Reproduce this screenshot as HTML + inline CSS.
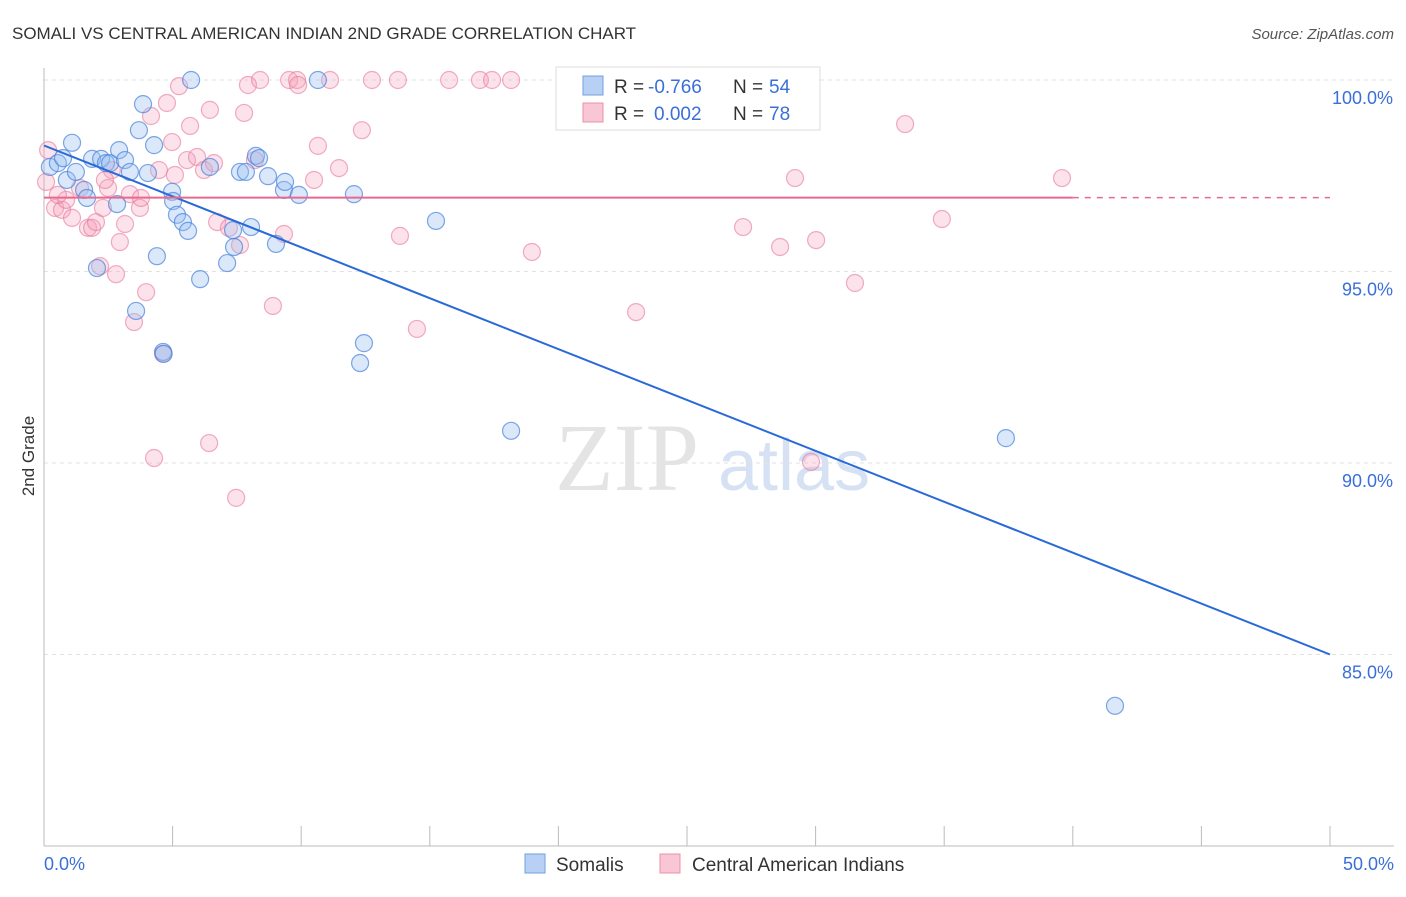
<!DOCTYPE html>
<html><head><meta charset="utf-8"><style>
body{margin:0;background:#fff;font-family:"Liberation Sans",sans-serif}
</style></head><body>
<svg width="1406" height="892" xmlns="http://www.w3.org/2000/svg" font-family="Liberation Sans, sans-serif">
<text x="12" y="39" font-size="17" fill="#333">SOMALI VS CENTRAL AMERICAN INDIAN 2ND GRADE CORRELATION CHART</text>
<text x="1394" y="39" font-size="15" fill="#555" font-style="italic" text-anchor="end">Source: ZipAtlas.com</text>
<text x="34" y="456" font-size="17" fill="#333" transform="rotate(-90 34 456)" text-anchor="middle">2nd Grade</text>
<g><text x="555" y="490" font-size="96" font-family="Liberation Serif, serif" fill="#e4e4e4">ZIP</text><text x="718" y="490" font-size="72" fill="#d6e2f4">atlas</text></g>
<g id="grid"></g><g id="axes"></g><g id="pts"></g><g id="lines"></g>
<g>
<rect x="556" y="67" width="264" height="63" fill="#fff" stroke="#ddd"/>
<rect x="583" y="76" width="20" height="19" fill="#b8d0f4" stroke="#6fa0e0"/>
<rect x="583" y="103" width="20" height="19" fill="#f9c6d5" stroke="#ec8fab"/>
<text x="614" y="93" font-size="19" fill="#333">R =</text>
<text x="648" y="93" font-size="19" fill="#3a6fd8">-0.766</text>
<text x="733" y="93" font-size="19" fill="#333">N =</text>
<text x="769" y="93" font-size="19" fill="#3a6fd8">54</text>
<text x="614" y="120" font-size="19" fill="#333">R =</text>
<text x="654" y="120" font-size="19" fill="#3a6fd8">0.002</text>
<text x="733" y="120" font-size="19" fill="#333">N =</text>
<text x="769" y="120" font-size="19" fill="#3a6fd8">78</text>
</g>
<g>
<rect x="525" y="854" width="20" height="19" fill="#b8d0f4" stroke="#6fa0e0"/>
<text x="556" y="871" font-size="19" fill="#333">Somalis</text>
<rect x="660" y="854" width="20" height="19" fill="#f9c6d5" stroke="#ec8fab"/>
<text x="692" y="871" font-size="19" fill="#333">Central American Indians</text>
</g>
</svg>
<script>
const blueX=[0.23,0.54,0.74,1.09,0.89,1.24,1.56,1.67,1.87,2.06,2.22,2.41,2.57,2.84,2.92,3.15,3.34,3.58,3.69,3.85,4.04,4.28,4.39,4.63,4.65,4.98,5.02,5.17,5.40,5.60,5.72,6.07,6.45,7.12,7.35,7.39,7.62,7.85,8.05,8.24,8.36,8.71,9.02,9.33,9.37,9.91,10.65,12.05,12.29,12.44,15.24,18.16,37.40,41.64];
const blueY=[97.73,97.83,97.96,98.36,97.39,97.60,97.13,96.92,97.94,95.09,97.94,97.83,97.83,96.76,98.17,97.91,97.60,93.97,98.69,99.37,97.57,98.30,95.40,92.90,92.85,97.08,96.84,96.48,96.29,96.06,100,94.80,97.73,95.22,96.08,95.64,97.60,97.60,96.16,98.02,97.96,97.49,95.72,97.13,97.34,97.00,100,97.02,92.61,93.13,96.32,90.84,90.65,83.66];
const pinkX=[0.16,0.08,0.43,0.70,0.86,1.09,1.40,1.71,1.87,2.02,2.18,2.29,2.49,2.64,2.80,2.95,3.15,3.34,3.50,3.73,3.77,3.97,4.16,4.28,4.47,4.63,4.78,4.98,5.09,5.25,5.56,5.68,5.95,6.22,6.42,6.45,6.61,6.73,7.19,7.47,7.62,7.78,7.93,8.20,8.40,8.90,9.33,9.53,9.84,9.88,10.50,10.65,11.12,11.47,12.36,12.75,13.76,13.84,14.50,15.75,16.95,17.42,18.16,18.97,22.28,23.02,27.18,28.62,29.20,30.02,29.82,31.53,33.48,34.91,39.58,2.37,0.54];
const pinkY=[98.17,97.34,96.66,96.61,96.87,96.40,97.18,96.14,96.14,96.29,95.14,96.66,97.18,97.65,94.93,95.77,96.24,97.02,93.68,96.66,96.92,94.46,99.06,90.13,97.65,92.85,99.40,98.38,97.52,99.84,97.91,98.80,97.99,97.65,90.52,99.22,97.83,96.29,96.14,89.09,95.69,99.14,99.87,97.91,100,94.10,95.98,100,100,99.87,97.39,98.28,100,97.70,98.69,100,100,95.93,93.50,100,100,100,100,95.51,100,93.94,96.16,95.64,97.44,95.82,90.03,94.70,98.85,96.37,97.44,97.39,97.00];
const yTicks=[100,95,90,85];
const xTickLabels=["0.0%","50.0%"];
const blueFit=[[0,98.29],[50,85.0]];
const pinkFit=[[0,96.93],[40,96.93],[50,96.93]];
const NS="http://www.w3.org/2000/svg";
const sx=v=>44+v/50*1286, sy=v=>80+(100-v)*38.3;
function mk(p,t,a){const e=document.createElementNS(NS,t);for(const k in a)e.setAttribute(k,a[k]);p.appendChild(e);return e;}
const grid=document.getElementById('grid'),axes=document.getElementById('axes');
yTicks.forEach(t=>{
 const l=mk(grid,'line',{x1:44,x2:1394,y1:sy(t),y2:sy(t),stroke:'#e2e2e2','stroke-dasharray':'4,4'});
 
 
 const tx=mk(axes,'text',{x:1393,y:sy(t)+24,'font-size':18,fill:'#3a6fd8','text-anchor':'end'});tx.textContent=t.toFixed(1)+'%';
 
 
});
const ya=mk(axes,'line',{x1:44,x2:44,y1:68,y2:846,stroke:'#bbb'});


const xa=mk(axes,'line',{x1:44,x2:1394,y1:846,y2:846,stroke:'#bbb'});


for(let i=0;i<=10;i++){const t=mk(axes,'line',{x1:sx(i*5),x2:sx(i*5),y1:826,y2:846,stroke:'#bbb'});
 
 }
[[0,'start'],[50,'end']].forEach((d,i)=>{const t=mk(axes,'text',{x:i?1394:44,y:870,'font-size':18,fill:'#3a6fd8','text-anchor':d[1]});t.textContent=xTickLabels[i];
 
 });
const pts=document.getElementById('pts');
pinkX.forEach((x,i)=>{const c=mk(pts,'circle',{cx:sx(x),cy:sy(pinkY[i]),r:8.5,fill:'rgba(245,160,185,0.3)',stroke:'rgba(232,120,155,0.6)','stroke-width':1.2});
 
 });
blueX.forEach((x,i)=>{const c=mk(pts,'circle',{cx:sx(x),cy:sy(blueY[i]),r:8.5,fill:'rgba(150,190,240,0.35)',stroke:'rgba(70,130,220,0.7)','stroke-width':1.2});
 
 });
const ln=document.getElementById('lines');
const b=mk(ln,'line',{x1:sx(blueFit[0][0]),y1:sy(blueFit[0][1]),x2:sx(blueFit[1][0]),y2:sy(blueFit[1][1]),stroke:'#2a6ad8','stroke-width':2});


const p=mk(ln,'line',{x1:sx(pinkFit[0][0]),y1:sy(pinkFit[0][1]),x2:sx(pinkFit[1][0]),y2:sy(pinkFit[1][1]),stroke:'#e8688e','stroke-width':2});


const pd=mk(ln,'line',{x1:sx(pinkFit[1][0]),y1:sy(pinkFit[1][1]),x2:sx(pinkFit[2][0]),y2:sy(pinkFit[2][1]),stroke:'#e8688e','stroke-width':1.5,'stroke-dasharray':'6,6'});


</script>
</body></html>
